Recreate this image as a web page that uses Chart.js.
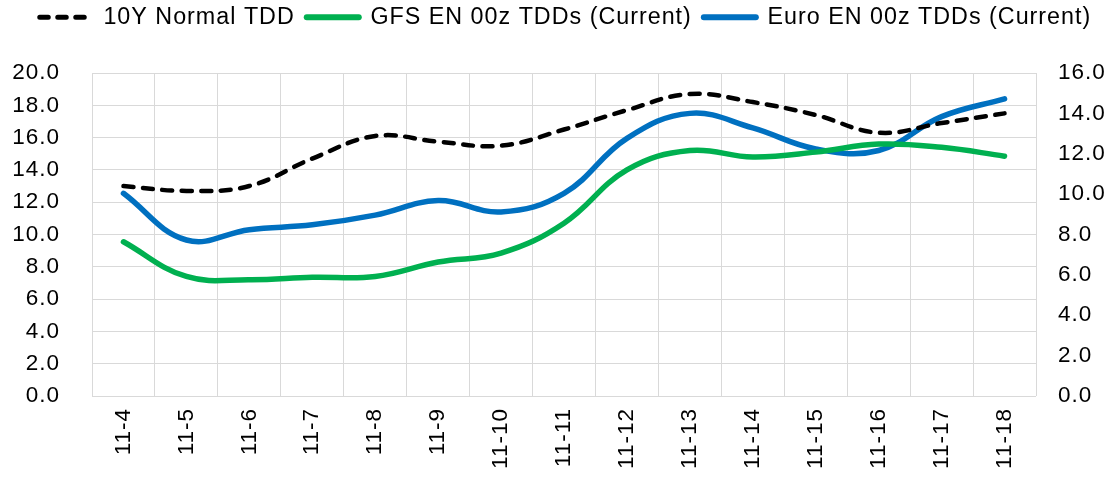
<!DOCTYPE html>
<html><head><meta charset="utf-8">
<script src="https://cdn.jsdelivr.net/npm/chart.js@4/dist/chart.umd.min.js"></script>
<style>html,body{margin:0;padding:0;background:#fff}#wrap{width:1119px;height:477px}</style>
</head><body><div id="wrap"><canvas id="c"></canvas></div>
<script>
const categories = ['11-4','11-5','11-6','11-7','11-8','11-9','11-10','11-11','11-12','11-13','11-14','11-15','11-16','11-17','11-18'];
const normalTDD = [13.0,12.7,13.0,14.7,16.1,15.75,15.5,16.5,17.7,18.7,18.2,17.4,16.3,16.9,17.5];
const gfsTDD = [9.55,7.4,7.2,7.35,7.4,8.3,8.85,10.7,14.0,15.2,14.8,15.1,15.6,15.4,14.85];
const euroTDD = [12.55,9.66,10.3,10.6,11.2,12.1,11.4,12.55,15.95,17.5,16.6,15.3,15.2,17.3,18.4];
const leftTicks = {min:0,max:20,step:2};
const rightTicks = {min:0,max:16,step:2};

const FONT = "'Liberation Sans', Arial, sans-serif";
Chart.defaults.font.family = FONT;
Chart.defaults.color = '#000';

const spacingPlugin = {
  id:'spacing',
  beforeUpdate(chart){ chart.ctx.letterSpacing = '1px'; },
  beforeDraw(chart){ chart.ctx.letterSpacing = '1px'; },
  afterInit(chart){
    const lg = chart.legend;
    if (lg) {
      const origFit = lg.fit.bind(lg);
      lg.fit = function(){ origFit(); this.height = 79.5; };
      const origDraw = lg.draw.bind(lg);
      lg.draw = function(a){ const c = this.ctx; c.save(); c.translate(6,0); origDraw(a); c.restore(); };
    }
  }
};

new Chart(document.getElementById('c'), {
  type: 'line',
  plugins:[spacingPlugin],
  data: {
    labels: categories,
    datasets: [
      {label:'10Y Normal TDD', data: normalTDD, borderColor:'#000', backgroundColor:'#000', borderWidth:4.5, borderDash:[10,9.5], borderCapStyle:'round', tension:0.4, pointRadius:0, yAxisID:'y'},
      {label:'GFS EN 00z TDDs (Current)', data: gfsTDD, borderColor:'#00B050', backgroundColor:'#00B050', borderWidth:5.5, borderCapStyle:'round', tension:0.4, pointRadius:0, yAxisID:'y'},
      {label:'Euro EN 00z TDDs (Current)', data: euroTDD, borderColor:'#0070C0', backgroundColor:'#0070C0', borderWidth:5.5, borderCapStyle:'round', tension:0.4, pointRadius:0, yAxisID:'y'}
    ]
  },
  options: {
    responsive:true, maintainAspectRatio:false, animation:false,
    layout:{padding:{top:-6.5,left:0,right:0,bottom:0}},
    plugins:{
      tooltip:{enabled:false},
      legend:{position:'top', labels:{usePointStyle:true, pointStyle:'line', pointStyleWidth:52, font:{size:23.3,family:FONT}, color:'#000', padding:12,
        generateLabels(chart){
          return chart.data.datasets.map((ds,i)=>({
            text: ds.label, datasetIndex:i, fillStyle: ds.borderColor, strokeStyle: ds.borderColor,
            lineWidth: ds.borderWidth + 0.5, lineDash: ds.borderDash ? [8.5,9.5] : [], lineCap: 'round',
            pointStyle:'line', hidden:false, fontColor:'#000'
          }));
        }}}
    },
    scales:{
      x:{offset:true, grid:{offset:true, color:'#d9d9d9', lineWidth:1, drawTicks:false}, border:{display:false},
         ticks:{maxRotation:90, minRotation:90, padding:12, font:{size:22.5,family:FONT}, color:'#000'},
         afterFit(s){ s.height = 81; }},
      y:{position:'left', min:leftTicks.min, max:leftTicks.max, grid:{color:'#d9d9d9', lineWidth:1, drawTicks:false}, border:{display:false},
         ticks:{stepSize:leftTicks.step, padding:32, font:{size:22.5,family:FONT}, color:'#000', callback:v=>v.toFixed(1)},
         afterFit(s){ s.width = 92; }},
      y2:{position:'right', min:rightTicks.min, max:rightTicks.max, grid:{display:false, drawTicks:false}, border:{display:false},
         ticks:{stepSize:rightTicks.step, padding:22, font:{size:22.5,family:FONT}, color:'#000', callback:v=>v.toFixed(1)},
         afterFit(s){ s.width = 83; }}
    }
  }
});
</script></body></html>
